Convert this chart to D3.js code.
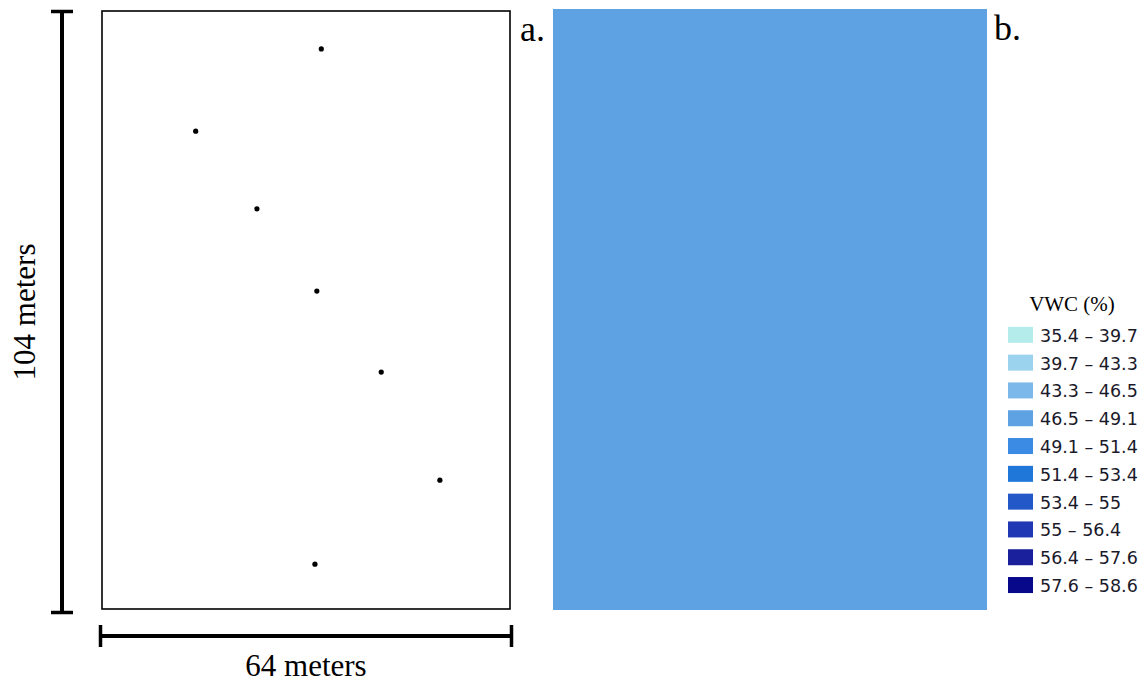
<!DOCTYPE html>
<html>
<head>
<meta charset="utf-8">
<script src="https://cdn.jsdelivr.net/npm/d3@7"></script>
<style>
  html, body { margin: 0; padding: 0; background: #fff; }
  svg { display: block; }
</style>
</head>
<body>
<svg id="fig" width="1142" height="682"></svg>
<script>
// Field dimensions (meters)
const fieldWidth = 64;
const fieldHeight = 104;

// Sampling locations, meters from the west edge / south edge
const sampleX = [34.4, 14.7, 24.3, 33.7, 43.8, 53.0, 33.4];
const sampleY = [97.4, 83.1, 69.6, 55.3, 41.2, 22.4, 7.8];

// VWC (%) class breaks and colours
const classLabels = ["35.4 – 39.7", "39.7 – 43.3", "43.3 – 46.5", "46.5 – 49.1", "49.1 – 51.4",
                     "51.4 – 53.4", "53.4 – 55", "55 – 56.4", "56.4 – 57.6", "57.6 – 58.6"];
const classBreaks = [39.7, 43.3, 46.5, 49.1, 51.4, 53.4, 55, 56.4, 57.6];
const classColors = ["#b4ecec", "#9bd3ee", "#7db8eb", "#5ea2e3", "#3b8ae3",
                     "#1f77da", "#2358c8", "#2038b3", "#1a209b", "#08088a"];

// Interpolated VWC surface (uniform over the field)
const surfaceVWC = [47.8];

const svg = d3.select("#fig");
const serif = "'Liberation Serif', 'Times New Roman', serif";

// ---- Panel a: field outline with sample points ----
const ax = d3.scaleLinear().domain([0, fieldWidth]).range([102, 510]);
const ay = d3.scaleLinear().domain([0, fieldHeight]).range([609, 11]);

svg.append("rect")
  .attr("x", ax(0)).attr("y", ay(fieldHeight))
  .attr("width", ax(fieldWidth) - ax(0))
  .attr("height", ay(0) - ay(fieldHeight))
  .attr("fill", "#fff").attr("stroke", "#000").attr("stroke-width", 1.6);

const pts = sampleX.map((x, i) => ({ x, y: sampleY[i] }));
svg.append("g").selectAll("circle").data(pts).join("circle")
  .attr("cx", d => ax(d.x)).attr("cy", d => ay(d.y))
  .attr("r", 2.6)
  .attr("fill", "#000");

// Vertical scale bar (104 m)
const vbar = d3.scaleLinear().domain([0, fieldHeight]).range([614, 10]);
const gv = svg.append("g").attr("stroke", "#000");
gv.append("line").attr("x1", 62).attr("x2", 62).attr("y1", vbar(0)).attr("y2", vbar(fieldHeight)).attr("stroke-width", 4);
gv.append("line").attr("x1", 51).attr("x2", 73).attr("y1", vbar(fieldHeight) + 1.5).attr("y2", vbar(fieldHeight) + 1.5).attr("stroke-width", 3.5);
gv.append("line").attr("x1", 51).attr("x2", 73).attr("y1", vbar(0) - 1.5).attr("y2", vbar(0) - 1.5).attr("stroke-width", 3.5);
svg.append("text")
  .attr("transform", `translate(35,${(vbar(0) + vbar(fieldHeight)) / 2}) rotate(-90)`)
  .attr("text-anchor", "middle")
  .attr("font-family", serif).attr("font-size", 31)
  .text(`${fieldHeight} meters`);

// Horizontal scale bar (64 m)
const hbar = d3.scaleLinear().domain([0, fieldWidth]).range([99, 513]);
const gh = svg.append("g").attr("stroke", "#000");
gh.append("line").attr("x1", hbar(0)).attr("x2", hbar(fieldWidth)).attr("y1", 636).attr("y2", 636).attr("stroke-width", 4);
gh.append("line").attr("x1", hbar(0) + 1.5).attr("x2", hbar(0) + 1.5).attr("y1", 625).attr("y2", 647).attr("stroke-width", 3.5);
gh.append("line").attr("x1", hbar(fieldWidth) - 1.5).attr("x2", hbar(fieldWidth) - 1.5).attr("y1", 625).attr("y2", 647).attr("stroke-width", 3.5);
svg.append("text")
  .attr("x", (hbar(0) + hbar(fieldWidth)) / 2).attr("y", 676)
  .attr("text-anchor", "middle")
  .attr("font-family", serif).attr("font-size", 31)
  .text(`${fieldWidth} meters`);

svg.append("text").attr("x", 520).attr("y", 41)
  .attr("font-family", serif).attr("font-size", 36).text("a.");

// ---- Panel b: interpolated VWC map ----
const color = d3.scaleThreshold().domain(classBreaks).range(classColors);
const bx = d3.scaleLinear().domain([0, fieldWidth]).range([553, 987]);
const by = d3.scaleLinear().domain([0, fieldHeight]).range([610, 9]);

svg.append("g").selectAll("rect").data(surfaceVWC).join("rect")
  .attr("x", bx(0)).attr("y", by(fieldHeight))
  .attr("width", bx(fieldWidth) - bx(0))
  .attr("height", by(0) - by(fieldHeight))
  .attr("fill", d => color(d));

svg.append("text").attr("x", 994).attr("y", 40)
  .attr("font-family", serif).attr("font-size", 36).text("b.");

// Legend
const legend = svg.append("g");
legend.append("text")
  .attr("x", 1072).attr("y", 311)
  .attr("text-anchor", "middle")
  .attr("font-family", serif).attr("font-size", 21)
  .text("VWC (%)");

const ly = d3.scaleBand().domain(d3.range(classLabels.length)).range([321, 599]).paddingInner(0.42).paddingOuter(0.21);
const rows = legend.selectAll("g.row").data(classLabels).join("g").attr("class", "row")
  .attr("transform", (d, i) => `translate(0,${ly(i)})`);
rows.append("rect")
  .attr("x", 1008).attr("y", 0).attr("width", 25).attr("height", 16)
  .attr("fill", (d, i) => classColors[i]);
rows.append("text")
  .attr("x", 1040).attr("y", 15)
  .attr("font-family", "'DejaVu Sans', Verdana, sans-serif").attr("font-size", 17.5)
  .attr("fill", "#1a1a2a")
  .text(d => d);
</script>
</body>
</html>
